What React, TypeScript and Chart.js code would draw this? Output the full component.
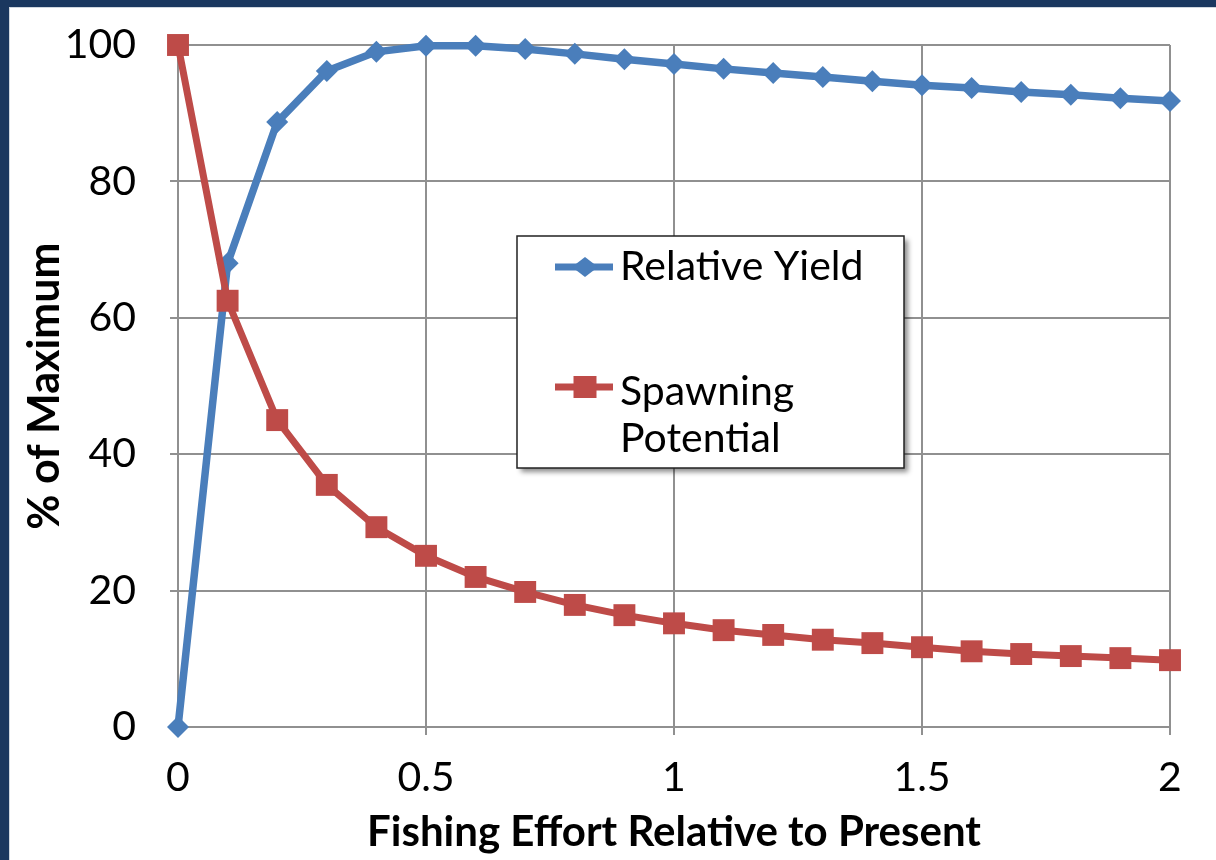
import React, { useEffect, useRef } from "react";
import { Chart, registerables } from "chart.js";

Chart.register(...registerables);

const effort: number[] = [0, 0.1, 0.2, 0.3, 0.4, 0.5, 0.6, 0.7, 0.8, 0.9, 1.0, 1.1, 1.2, 1.3, 1.4, 1.5, 1.6, 1.7, 1.8, 1.9, 2.0];
const relativeYield: number[] = [0, 68.0, 88.7, 96.2, 99.0, 99.9, 99.9, 99.4, 98.7, 97.9, 97.2, 96.5, 95.9, 95.3, 94.7, 94.1, 93.7, 93.1, 92.7, 92.2, 91.8];
const spawningPotential: number[] = [100, 62.5, 45.0, 35.5, 29.3, 25.1, 22.0, 19.8, 17.9, 16.4, 15.2, 14.2, 13.5, 12.8, 12.3, 11.7, 11.1, 10.7, 10.4, 10.1, 9.8];
const xTicks: number[] = [0, 0.5, 1, 1.5, 2];
const yTicks: number[] = [0, 20, 40, 60, 80, 100];
const seriesNames: string[] = ["Relative Yield", "Spawning Potential"];
const legendLines: string[][] = [["Relative Yield"], ["Spawning", "Potential"]];

const BLUE = "#4A7EBB";
const RED = "#BE4B48";
const GRID = "#909090";
const FONT = "Lato, 'Open Sans', sans-serif";

const legendPlugin = {
  id: "boxLegend",
  afterDraw(chart: any) {
    const ctx = chart.ctx as CanvasRenderingContext2D;
    const ca = chart.chartArea;
    const bx = ca.left + 339;
    const by = ca.top + 191;
    const bw = 387;
    const bh = 232;
    ctx.save();
    ctx.shadowColor = "rgba(0,0,0,0.45)";
    ctx.shadowBlur = 5;
    ctx.shadowOffsetX = 4;
    ctx.shadowOffsetY = 4;
    ctx.fillStyle = "#ffffff";
    ctx.fillRect(bx, by, bw, bh);
    ctx.restore();
    ctx.save();
    ctx.strokeStyle = "#222222";
    ctx.lineWidth = 1.5;
    ctx.strokeRect(bx, by, bw, bh);

    const colors = [BLUE, RED];
    const rowY = [by + 31, by + 151];
    const textOffset = [13, 18];
    const lx0 = bx + 38;
    const lx1 = bx + 96;
    const cx = bx + 68;
    ctx.font = `41px ${FONT}`;
    ctx.fillStyle = "#000000";
    ctx.textBaseline = "alphabetic";
    ctx.textAlign = "left";
    legendLines.forEach((lines, i) => {
      const y = rowY[i];
      ctx.strokeStyle = colors[i];
      ctx.lineWidth = 7;
      ctx.beginPath();
      ctx.moveTo(lx0, y);
      ctx.lineTo(lx1, y);
      ctx.stroke();
      ctx.fillStyle = colors[i];
      ctx.beginPath();
      if (i === 0) {
        ctx.moveTo(cx - 13, y);
        ctx.lineTo(cx, y - 10);
        ctx.lineTo(cx + 13, y);
        ctx.lineTo(cx, y + 10);
        ctx.closePath();
      } else {
        ctx.rect(cx - 11.5, y - 11, 23, 22);
      }
      ctx.fill();
      ctx.fillStyle = "#000000";
      lines.forEach((t, j) => {
        ctx.fillText(t, bx + 103, y + textOffset[i] + j * 47);
      });
    });
    ctx.restore();
  },
};

export default function App() {
  const canvasRef = useRef<HTMLCanvasElement | null>(null);

  useEffect(() => {
    if (!canvasRef.current) return;
    const chart = new Chart(canvasRef.current, {
      type: "line",
      data: {
        datasets: [
          {
            label: seriesNames[0],
            data: effort.map((x, i) => ({ x, y: relativeYield[i] })),
            borderColor: BLUE,
            backgroundColor: BLUE,
            borderWidth: 7.5,
            pointStyle: "rectRot",
            pointRadius: 11,
            pointBorderWidth: 0,
            pointBackgroundColor: BLUE,
            order: 1,
            tension: 0,
            clip: false,
          },
          {
            label: seriesNames[1],
            data: effort.map((x, i) => ({ x, y: spawningPotential[i] })),
            borderColor: RED,
            backgroundColor: RED,
            borderWidth: 7,
            pointStyle: "rect",
            pointRadius: 15.5,
            pointBorderWidth: 0,
            pointBackgroundColor: RED,
            order: 0,
            tension: 0,
            clip: false,
          },
        ],
      },
      options: {
        animation: false,
        responsive: false,
        maintainAspectRatio: false,
        layout: { autoPadding: false, padding: { left: 0, right: 46, top: 38, bottom: 0 } },
        plugins: { legend: { display: false }, tooltip: { enabled: false } },
        scales: {
          x: {
            type: "linear",
            min: 0,
            max: 2,
            afterBuildTicks: (axis: any) => {
              axis.ticks = xTicks.map((v) => ({ value: v }));
            },
            afterFit: (axis: any) => {
              axis.height = 133;
              axis.paddingLeft = 0;
              axis.paddingRight = 0;
            },
            ticks: {
              color: "#000000",
              font: { family: FONT, size: 41 },
              padding: 18,
              maxRotation: 0,
              callback: (v: any) => String(v),
            },
            grid: { color: GRID, lineWidth: 2, tickLength: 8, drawTicks: true },
            border: { color: GRID, width: 2 },
            title: {
              display: true,
              text: "Fishing Effort Relative to Present",
              color: "#000000",
              font: { family: FONT, size: 42, weight: "bold" },
              padding: { top: 0, bottom: 2 },
            },
          },
          y: {
            type: "linear",
            min: 0,
            max: 100,
            afterBuildTicks: (axis: any) => {
              axis.ticks = yTicks.map((v) => ({ value: v }));
            },
            afterFit: (axis: any) => {
              axis.width = 169;
              axis.paddingTop = 0;
              axis.paddingBottom = 0;
            },
            ticks: {
              color: "#000000",
              font: { family: FONT, size: 41 },
              padding: 34,
              callback: (v: any) => String(v),
            },
            grid: { color: GRID, lineWidth: 2, tickLength: 8, drawTicks: true },
            border: { color: GRID, width: 2 },
            title: {
              display: true,
              text: "% of Maximum",
              color: "#000000",
              font: { family: FONT, size: 43, weight: "bold" },
              padding: { top: 10, bottom: 0 },
            },
          },
        },
      },
      plugins: [legendPlugin],
    });
    return () => chart.destroy();
  }, []);

  return (
    <div style={{ position: "fixed", left: 0, top: 0, width: 1216, height: 860, background: "#1a375f", overflow: "hidden" }}>
      <div style={{ position: "absolute", left: 9, top: 7, right: 0, bottom: 0, background: "#ffffff", boxShadow: "inset 1px 1px 0 #cfd6df" }}>
        <canvas ref={canvasRef} width={1207} height={853} style={{ display: "block", width: 1207, height: 853 }} />
      </div>
    </div>
  );
}
